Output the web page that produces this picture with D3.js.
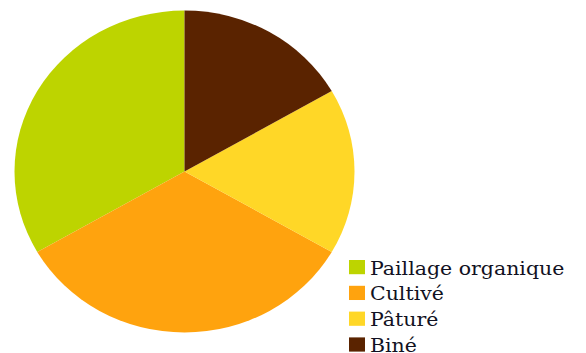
<!DOCTYPE html>
<html>
<head>
<meta charset="utf-8">
<script src="https://cdn.jsdelivr.net/npm/d3@7"></script>
<style>
  body { margin: 0; background: #fff; }
  #chart { width: 586px; height: 353px; }
</style>
</head>
<body>
<div id="chart"></div>
<script>
const categories = ["Paillage organique", "Cultivé", "Pâturé", "Biné"];
const values = [2, 2, 1, 1];
const colors = ["#bdd400", "#ffa30e", "#ffd727", "#5a2300"];

const width = 586, height = 353;
const sy = 161 / 170; // the picture is slightly squashed vertically
const radius = 170;

const svg = d3.select("#chart")
  .append("svg")
  .attr("width", width)
  .attr("height", height);

const root = svg.append("g")
  .attr("transform", `scale(1, ${sy})`);

const pie = d3.pie()
  .sort(null)
  .startAngle(0)
  .endAngle(-2 * Math.PI);

const arc = d3.arc().innerRadius(0).outerRadius(radius);

const color = d3.scaleOrdinal().domain(categories).range(colors);

root.append("g")
  .attr("transform", `translate(184.5, ${171.5 / sy})`)
  .selectAll("path")
  .data(pie(values))
  .enter()
  .append("path")
  .attr("d", arc)
  .attr("fill", (d, i) => color(categories[i]));

// legend
const legend = root.append("g")
  .attr("transform", `translate(349, ${260 / sy})`);

const rows = legend.selectAll(".row")
  .data(categories)
  .enter()
  .append("g")
  .attr("class", "row")
  .attr("transform", (d, i) => `translate(0, ${i * 25.8 / sy})`);

rows.append("rect")
  .attr("width", 16)
  .attr("height", 15)
  .attr("fill", d => color(d));

rows.append("text")
  .attr("x", 21)
  .attr("y", 15.5)
  .attr("font-family", "DejaVu Serif")
  .attr("font-size", 20.5)
  .attr("fill", "#111122")
  .text(d => d);
</script>
</body>
</html>
